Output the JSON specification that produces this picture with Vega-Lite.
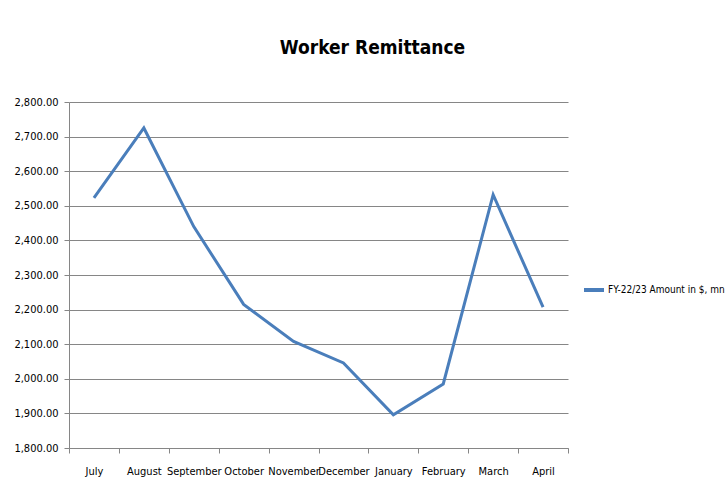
{
  "$schema": "https://vega.github.io/schema/vega-lite/v6.json",
  "autosize": "none",
  "width": 499,
  "height": 346,
  "padding": {"left": 69, "top": 102, "right": 159, "bottom": 48},
  "background": "white",
  "title": {
    "text": "Worker Remittance",
    "font": "Liberation Sans Narrow, DejaVu Sans Condensed, sans-serif",
    "fontSize": 19,
    "fontWeight": "bold",
    "color": "#000000",
    "anchor": "middle",
    "frame": "group",
    "dx": 54,
    "offset": 38
  },
  "data": {
    "values": [
      {"month": "July", "series": "FY-22/23 Amount in $, mn", "amount": 2523},
      {"month": "August", "series": "FY-22/23 Amount in $, mn", "amount": 2725},
      {"month": "September", "series": "FY-22/23 Amount in $, mn", "amount": 2440},
      {"month": "October", "series": "FY-22/23 Amount in $, mn", "amount": 2215},
      {"month": "November", "series": "FY-22/23 Amount in $, mn", "amount": 2108},
      {"month": "December", "series": "FY-22/23 Amount in $, mn", "amount": 2046},
      {"month": "January", "series": "FY-22/23 Amount in $, mn", "amount": 1896},
      {"month": "February", "series": "FY-22/23 Amount in $, mn", "amount": 1985},
      {"month": "March", "series": "FY-22/23 Amount in $, mn", "amount": 2532},
      {"month": "April", "series": "FY-22/23 Amount in $, mn", "amount": 2207}
    ]
  },
  "mark": {"type": "line", "strokeWidth": 3, "strokeJoin": "miter", "clip": false},
  "encoding": {
    "x": {
      "field": "month",
      "type": "ordinal",
      "sort": null,
      "bandPosition": 0.5,
      "scale": {"type": "band", "paddingInner": 0, "paddingOuter": 0},
      "axis": {
        "title": null,
        "tickBand": "extent",
        "labelAngle": 0,
        "grid": false,
        "domainColor": "#868686",
        "tickColor": "#868686",
        "tickSize": 5,
        "labelPadding": 12,
        "labelFont": "Liberation Sans Narrow, DejaVu Sans Condensed, sans-serif",
        "labelFontSize": 11,
        "labelColor": "#000000",
        "labelOverlap": false
      }
    },
    "y": {
      "field": "amount",
      "type": "quantitative",
      "scale": {"domain": [1800, 2800], "nice": false, "zero": false},
      "axis": {
        "title": null,
        "values": [1800, 1900, 2000, 2100, 2200, 2300, 2400, 2500, 2600, 2700, 2800],
        "format": ",.2f",
        "grid": true,
        "gridColor": "#868686",
        "gridWidth": 1,
        "domainColor": "#868686",
        "tickColor": "#868686",
        "tickSize": 5,
        "labelPadding": 6,
        "labelFont": "Liberation Sans Narrow, DejaVu Sans Condensed, sans-serif",
        "labelFontSize": 11,
        "labelColor": "#000000"
      }
    },
    "color": {
      "field": "series",
      "type": "nominal",
      "scale": {"range": ["#4A7EBB"]},
      "legend": {
        "title": null,
        "orient": "none",
        "legendX": 513,
        "legendY": 176,
        "symbolType": "stroke",
        "symbolStrokeWidth": 4,
        "symbolSize": 400,
        "labelOffset": 2,
        "labelFont": "Liberation Sans Narrow, DejaVu Sans Condensed, sans-serif",
        "labelFontSize": 10,
        "labelColor": "#000000",
        "labelLimit": 300
      }
    }
  },
  "config": {
    "view": {"stroke": null}
  }
}
